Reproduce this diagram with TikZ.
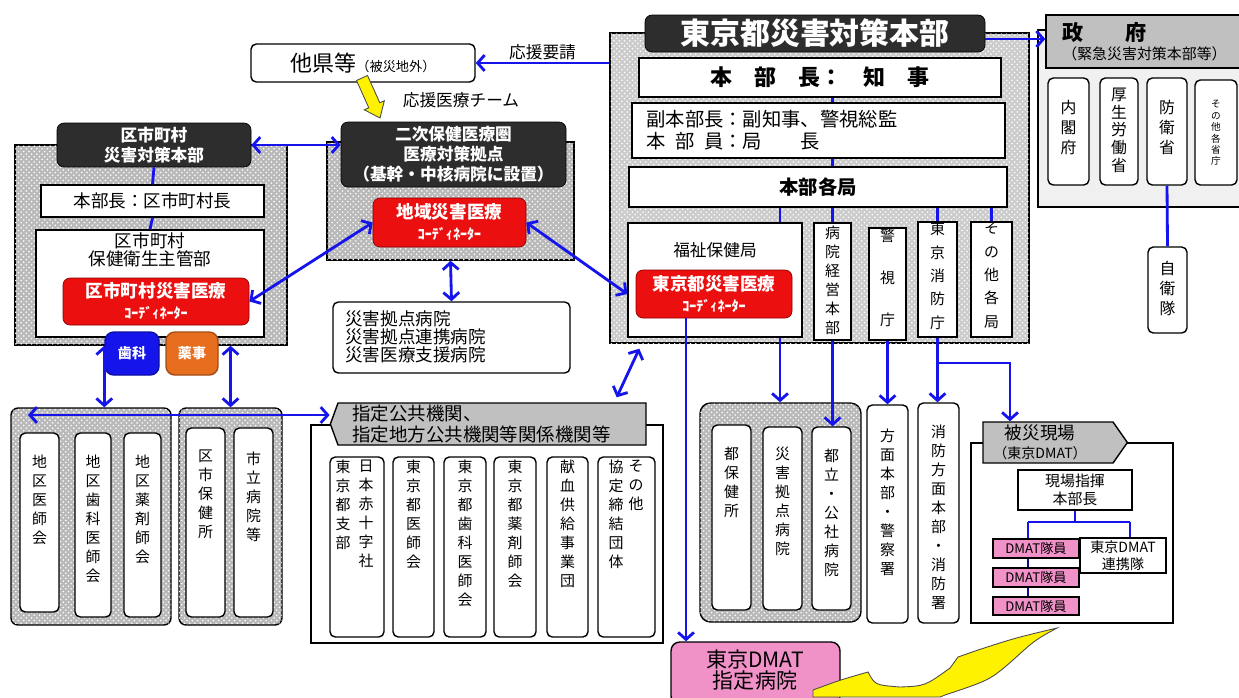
\documentclass[tikz,border=0pt]{standalone}
\usepackage{fontspec}
\setmainfont{Noto Sans CJK JP}
\usetikzlibrary{positioning,fit,patterns,arrows.meta,shapes.symbols}
\definecolor{jblue}{RGB}{20,20,235}
\definecolor{hqblack}{RGB}{45,45,45}
\definecolor{coordred}{RGB}{235,15,15}
\definecolor{dmatpink}{RGB}{240,145,200}
\definecolor{lblgray}{RGB}{192,192,192}
\definecolor{yakuorange}{RGB}{230,110,30}
\tikzset{
    box/.style={
    rectangle,rounded corners=3pt,draw=black,line width=0.8pt,fill=white,inner sep=0pt
    },
    sqbox/.style={
    rectangle,draw=black,line width=0.8pt,fill=white,inner sep=0pt
    },
    hq/.style={
    rectangle,rounded corners=4pt,draw=black,fill=hqblack,inner sep=0pt
    },
    coord/.style={
    rectangle,rounded corners=4pt,draw=red!55!black,fill=coordred,inner sep=0pt
    },
    lbl/.style={
    draw=black,line width=0.8pt,fill=lblgray,inner sep=0pt
    },
    dense/.style={
    rectangle,draw=black,line width=0.8pt,fill=gray!55,postaction={pattern=crosshatch dots,pattern color=white}
    },
    tgrp/.style={
    rectangle,draw=black,line width=0.8pt,fill=gray!40,postaction={pattern=crosshatch dots,pattern color=white}
    },
    sparse/.style={
    rectangle,draw=black,line width=0.8pt,pattern=dots,pattern color=gray
    },
    tate/.style={
    align=center,inner sep=0pt,anchor=north,font=\fontsize{8.5}{10.8}\selectfont
    },
    txt/.style={
    inner sep=0pt,align=center,font=\fontsize{9.5}{11}\selectfont
    },
    wtxt/.style={
    txt,text=white,font=\fontsize{9.5}{11.3}\selectfont\bfseries
    },
    ctxt/.style={
    txt,text=white,font=\fontsize{10}{12}\selectfont\bfseries
    },
    link/.style={draw=jblue,line width=1.6pt},
    conn/.style={draw=jblue,line width=1.6pt,-{Straight Barb[length=4pt,width=9pt]}},
    bconn/.style={draw=jblue,line width=1.6pt,{Straight Barb[length=4pt,width=9pt]}-{Straight Barb[length=4pt,width=9pt]}},
    yfill/.style={fill=yellow,draw=gray!60!black,line width=0.5pt},
}

\begin{document}
\begin{tikzpicture}[x=0.02cm, y=-0.02cm]
  \useasboundingbox[fill=white] (0,0) rectangle (1239,697);

  % groups
  \node[tgrp, fit={(610,33) (1029,343)}, inner sep=0pt] (tokyoG) {};
  \node[sparse, fill=gray!12, fit={(1038,30) (1245,207)}, inner sep=0pt] (seifuG) {};
  \node[dense, fit={(327,142) (574,260)}, inner sep=0pt] (nijiG) {};
  \node[dense, fit={(15,145) (287,345)}, inner sep=0pt] (kuG) {};
  \node[dense, rounded corners=4pt, fit={(11,408) (171,625)}, inner sep=0pt] (lowG1) {};
  \node[dense, rounded corners=4pt, fit={(179,408) (282,625)}, inner sep=0pt] (lowG2) {};
  \node[sparse, fill=white, fit={(311,425) (663,643)}, inner sep=0pt] (shiteiG) {};
  \node[dense, rounded corners=6pt, fit={(700,403) (861,622)}, inner sep=0pt] (toG) {};
  \node[sparse, fill=white, fit={(971,443) (1173,623)}, inner sep=0pt] (hisaiG) {};

  % top
  \node[box, fit={(251,44) (475,82)}] (fuken) {};
  \node[txt] (fukenT) at (fuken) {{\fontsize{12.5}{14}\selectfont 他県等}{\fontsize{7.5}{9}\selectfont（被災地外）}};
  \node[txt] (team) at (461,100) {応援医療チーム};

  % tokyo
  \node[hq, fit={(645,15) (985,52)}] (tokyoT) {};
  \node[wtxt, font=\fontsize{17}{20}\selectfont\bfseries] (tokyoTT) at (tokyoT) {東京都災害対策本部};
  \node[sqbox, fit={(639,58) (1001,97)}] (chiji) {};
  \node[txt, font=\fontsize{12.5}{14}\selectfont\bfseries] (chijiT) at (chiji) {本\quad 部\quad 長：\quad 知\quad 事};
  \node[sqbox, fit={(632,103) (1005,158)}] (fuku) {};
  \node[txt, anchor=west, align=left, font=\fontsize{11}{12.3}\selectfont] (fukuT) at (646,130) {副本部長：副知事、警視総監\\本\enspace 部\enspace 員：局\quad\quad 長};
  \node[sqbox, fit={(629,167) (1007,207)}] (kakkyoku) {};
  \node[txt, font=\fontsize{11}{13}\selectfont\bfseries] (kakkyokuT) at (kakkyoku) {本部各局};
  \node[sqbox, fit={(628,223) (802,337)}] (fukushi) {};
  \node[txt] (fukushiT) at (715,250) {福祉保健局};
  \node[coord, fit={(636,270) (792,318)}] (tcoord) {};
  \node[ctxt] (tcoordT) at (tcoord) {東京都災害医療\\{\fontsize{8}{9}\selectfont ｺｰﾃﾞｨﾈｰﾀｰ}};
  \node[sqbox, fit={(814,223) (851,340)}] (byoin) {};
  \node[sqbox, fit={(869,228) (906,340)}] (keishi) {};
  \node[sqbox, fit={(918,222) (957,337)}] (shobo) {};
  \node[sqbox, fit={(971,222) (1012,337)}] (sonota) {};
  \node[tate] (byoinT) at (832.5,226) {病\\院\\経\\営\\本\\部};
  \node[tate] (keishiT) at (887.5,229) {警\\[13pt]視\\[13pt]庁};
  \node[tate, font=\fontsize{8.5}{13.3}\selectfont] (shoboT) at (937.5,222) {東\\京\\消\\防\\庁};
  \node[tate, font=\fontsize{8.5}{13.3}\selectfont] (sonotaT) at (991.5,222) {そ\\の\\他\\各\\局};

  % seifu
  \node[lbl, fit={(1046,15) (1245,68)}] (seifuT) {};
  \node[txt, anchor=west, align=left] (seifuTT) at (1062,42) {{\fontsize{12}{15}\selectfont\bfseries 政\quad\quad 府}\\{\fontsize{8.5}{11}\selectfont（緊急災害対策本部等）}};
  \node[box, fit={(1048,78) (1089,185)}] (naikaku) {};
  \node[box, fit={(1100,78) (1138,185)}] (koro) {};
  \node[box, fit={(1147,78) (1187,185)}] (boei) {};
  \node[box, fit={(1195,80) (1237,185)}] (shocho) {};
  \node[box, fit={(1148,247) (1187,333)}] (jieitai) {};
  \node[tate, font=\fontsize{9}{11.3}\selectfont] (naikakuT) at (1068.5,100) {内\\閣\\府};
  \node[tate, font=\fontsize{9}{10}\selectfont] (koroT) at (1119,88) {厚\\生\\労\\働\\省};
  \node[tate, font=\fontsize{9}{11.3}\selectfont] (boeiT) at (1167,100) {防\\衛\\省};
  \node[tate, font=\fontsize{5.5}{6.5}\selectfont] (shochoT) at (1216,100) {そ\\の\\他\\各\\省\\庁};
  \node[tate, font=\fontsize{9}{11.3}\selectfont] (jieitaiT) at (1167.5,261) {自\\衛\\隊};

  % niji
  \node[hq, fit={(341,122) (566,187)}] (nijiT) {};
  \node[wtxt] (nijiTT) at (nijiT) {二次保健医療圏\\医療対策拠点\\（基幹・中核病院に設置）};
  \node[coord, fit={(373,198) (526,247)}] (chiiki) {};
  \node[ctxt] (chiikiT) at (chiiki) {地域災害医療\\{\fontsize{8}{9}\selectfont ｺｰﾃﾞｨﾈｰﾀｰ}};
  \node[box, fit={(333,302) (570,373)}] (kyoten) {};
  \node[txt, anchor=west, align=left, font=\fontsize{10}{10.4}\selectfont] (kyotenT) at (345,337) {災害拠点病院\\災害拠点連携病院\\災害医療支援病院};

  % ku
  \node[hq, fit={(57,123) (251,167)}] (kuT) {};
  \node[wtxt, font=\fontsize{9.5}{11.5}\selectfont\bfseries] (kuTT) at (kuT) {区市町村\\災害対策本部};
  \node[sqbox, fit={(41,185) (264,217)}] (kuchou) {};
  \node[txt, font=\fontsize{10}{12}\selectfont] (kuchouT) at (kuchou) {本部長：区市町村長};
  \node[sqbox, fit={(36,230) (264,337)}] (kuhoken) {};
  \node[txt, font=\fontsize{10}{10.5}\selectfont] (kuhokenT) at (150,250) {区市町村\\保健衛生主管部};
  \node[coord, fit={(63,278) (249,325)}] (kucoord) {};
  \node[ctxt] (kucoordT) at (kucoord) {区市町村災害医療\\{\fontsize{8}{9}\selectfont ｺｰﾃﾞｨﾈｰﾀｰ}};
  \node[box, rounded corners=5pt, fill=jblue, draw=jblue!70!black, fit={(105,332) (159,375)}] (shika) {};
  \node[ctxt, font=\fontsize{8}{9}\selectfont\bfseries] (shikaT) at (shika) {歯科};
  \node[box, rounded corners=5pt, fill=yakuorange, draw=yakuorange!70!black, fit={(166,332) (218,375)}] (yakuji) {};
  \node[ctxt, font=\fontsize{8}{9}\selectfont\bfseries] (yakujiT) at (yakuji) {薬事};

  % lower left
  \node[box, fit={(20,433) (59,612)}] (ishi) {};
  \node[box, fit={(75,433) (111,617)}] (shikaI) {};
  \node[box, fit={(124,433) (161,617)}] (yaku) {};
  \node[box, fit={(186,428) (225,617)}] (hokenjo) {};
  \node[box, fit={(234,428) (273,617)}] (shiritsu) {};
  \node[tate] (ishiT) at (39.5,455) {地\\区\\医\\師\\会};
  \node[tate] (shikaIT) at (93,455) {地\\区\\歯\\科\\医\\師\\会};
  \node[tate] (yakuT) at (142.5,455) {地\\区\\薬\\剤\\師\\会};
  \node[tate] (hokenjoT) at (205.5,450) {区\\市\\保\\健\\所};
  \node[tate] (shiritsuT) at (253.5,452) {市\\立\\病\\院\\等};

  % shitei
  \node[lbl, signal, signal to=west, signal pointer angle=140, fit={(338,403) (646,445)}] (shiteiT) {};
  \node[txt, anchor=west, align=left, font=\fontsize{10.5}{11.8}\selectfont] (shiteiTT) at (352,424) {指定公共機関、\\指定地方公共機関等関係機関等};
  \node[box, fit={(330,457) (384,637)}] (sekijuji) {};
  \node[box, fit={(393,457) (434,637)}] (toishi) {};
  \node[box, fit={(444,457) (486,637)}] (toshika) {};
  \node[box, fit={(494,457) (536,637)}] (toyaku) {};
  \node[box, fit={(547,457) (588,637)}] (kenketsu) {};
  \node[box, fit={(598,457) (655,637)}] (kyotei) {};
  \node[tate] (sekijujiT1) at (343,460) {東\\京\\都\\支\\部};
  \node[tate] (sekijujiT2) at (366,460) {日\\本\\赤\\十\\字\\社};
  \node[tate] (toishiT) at (413.5,460) {東\\京\\都\\医\\師\\会};
  \node[tate] (toshikaT) at (465,460) {東\\京\\都\\歯\\科\\医\\師\\会};
  \node[tate] (toyakuT) at (515,460) {東\\京\\都\\薬\\剤\\師\\会};
  \node[tate] (kenketsuT) at (567.5,460) {献\\血\\供\\給\\事\\業\\団};
  \node[tate] (kyoteiT1) at (616,460) {協\\定\\締\\結\\団\\体};
  \node[tate] (kyoteiT2) at (636,460) {そ\\の\\他};

  % to
  \node[box, fit={(712,425) (751,610)}] (tohoken) {};
  \node[box, fit={(763,427) (802,610)}] (tokyoten) {};
  \node[box, fit={(812,427) (851,610)}] (toritsu) {};
  \node[box, fit={(867,405) (908,623)}] (houmen) {};
  \node[box, fit={(918,403) (959,623)}] (shoboH) {};
  \node[tate] (tohokenT) at (731.5,447) {都\\保\\健\\所};
  \node[tate] (tokyotenT) at (782.5,447) {災\\害\\拠\\点\\病\\院};
  \node[tate] (toritsuT) at (831.5,449) {都\\立\\・\\公\\社\\病\\院};
  \node[tate] (houmenT) at (887.5,429) {方\\面\\本\\部\\・\\警\\察\\署};
  \node[tate] (shoboHT) at (938.5,425) {消\\防\\方\\面\\本\\部\\・\\消\\防\\署};

  % hisai
  \node[lbl, signal, signal to=east, signal pointer angle=110, fit={(983,422) (1113,463)}] (hisaiT) {};
  \node[txt] (hisaiTT) at (1040,442) {{\fontsize{10}{11}\selectfont 被災現場}\\{\fontsize{8}{9}\selectfont （東京DMAT）}};
  \node[sqbox, fit={(1018,470) (1132,510)}] (shiki) {};
  \node[txt, font=\fontsize{8.5}{10}\selectfont] (shikiT) at (shiki) {現場指揮\\本部長};
  \node[sqbox, fill=dmatpink, fit={(993,539) (1079,558)}] (dmat1) {};
  \node[sqbox, fill=dmatpink, fit={(993,568) (1079,587)}] (dmat2) {};
  \node[sqbox, fill=dmatpink, fit={(993,597) (1079,615)}] (dmat3) {};
  \node[txt, font=\fontsize{7.5}{8}\selectfont] (dmat1T) at (dmat1) {DMAT隊員};
  \node[txt, font=\fontsize{7.5}{8}\selectfont] (dmat2T) at (dmat2) {DMAT隊員};
  \node[txt, font=\fontsize{7.5}{8}\selectfont] (dmat3T) at (dmat3) {DMAT隊員};
  \node[sqbox, fit={(1080,538) (1166,573)}] (renkei) {};
  \node[txt, font=\fontsize{8}{9.5}\selectfont] (renkeiT) at (renkei) {東京DMAT\\連携隊};

  \node[box, rounded corners=5pt, fill=dmatpink, fit={(671,642) (840,705)}] (dmatH) {};
  \node[txt, font=\fontsize{12}{12}\selectfont] (dmatHT) at (755,670) {東京DMAT\\指定病院};

  % connectors
  \coordinate (fx) at (780,0);
  \coordinate (dx) at (686,0);
  \coordinate (hz) at (28,415);
  \coordinate (br) at (937.5,363);
  \coordinate (bx) at (1010,363);
  \coordinate (tree) at (1075,522);
  \coordinate (dl) at (1028,522);
  \coordinate (dr) at (1130,522);
  \coordinate (gv) at (0,39);

  \draw[conn] (tokyoG.west |- fuken.east) -- node[above=1pt, txt] (yosei) {応援要請} (fuken.east);
  \draw[bconn] (kuT.east) -- (kuT.east -| nijiT.west);
  \draw[bconn] (kucoord.east) -- (chiiki.west);
  \draw[bconn] (chiiki.east) -- (fukushi.west |- tcoord.west);
  \draw[bconn] (nijiG.south) -- (kyoten.north);
  \draw[link] (kuT.south) -- (kuchou.north);
  \draw[link] (kuchou.south) -- (kuhoken.north);
  \draw[bconn] (kuG.south -| shika.west) -- (lowG1.north -| shika.west);
  \draw[bconn] (lowG2.north |- kuG.south) -- (lowG2.north);
  \draw[bconn] (hz) -- (hz -| shiteiT.west);
  \draw[bconn] ([shift={(30,5)}]tokyoG.south west) -- ([shift={(-30,-5)}]shiteiT.north east);

  \draw[link] (chiji.south -| byoin) -- (fuku.north -| byoin);
  \draw[link] (fuku.south -| byoin) -- (kakkyoku.north -| byoin);
  \draw[link] (kakkyoku.south -| fx) -- (fukushi.north -| fx);
  \draw[link] (kakkyoku.south -| byoin) -- (byoin.north);
  \draw[link] (kakkyoku.south -| shobo) -- (shobo.north);
  \draw[link] (kakkyoku.south -| sonota) -- (sonota.north);

  \draw[conn] (fukushi.south -| fx) -- (toG.north -| fx);
  \draw[conn] (byoin.south) -- (toritsu.north -| byoin.south);
  \draw[conn] (keishi.south) -- (houmen.north -| keishi.south);
  \draw[conn] (shobo.south) -- (shoboH.north -| shobo.south);
  \draw[conn] (br) -- (bx) -- (bx |- hisaiT.north);
  \draw[conn] (tcoord.south -| dx) -- (dmatH.north -| dx);

  \draw[conn] (tokyoT.east |- gv) -- (seifuT.west |- gv);
  \draw[link] (boei.south) -- (jieitai.north);

  \draw[link] (shiki.south) -- (tree);
  \draw[link] (dl) -- (dr);
  \draw[link] (dl) -- (dl |- dmat1.north);
  \draw[link] (dr) -- (dr |- renkei.north);
  \draw[jblue!60!black, line width=0.6pt] (dmat1.south -| dl) -- (dmat2.north -| dl);
  \draw[jblue!60!black, line width=0.6pt] (dmat2.south -| dl) -- (dmat3.north -| dl);

  % yellow arrows
  \filldraw[yfill] (356.5,80.5) -- (367.5,75.5) -- (379.8,102.8) -- (384.3,100.8) -- (380,118) -- (364.3,109.8) -- (368.8,107.8) -- cycle;
  \filldraw[yfill] (813,697) -- (813,690) .. controls (840,680) .. (868,672) .. controls (875,685) .. (900,687) .. controls (925,686) .. (950,668) -- (958,657) -- (978,650) .. controls (1015,638) .. (1057,628) .. controls (1035,640) .. (1013,660) .. controls (990,680) .. (945,695) -- (940,697) -- cycle;

\end{tikzpicture}
\end{document}
